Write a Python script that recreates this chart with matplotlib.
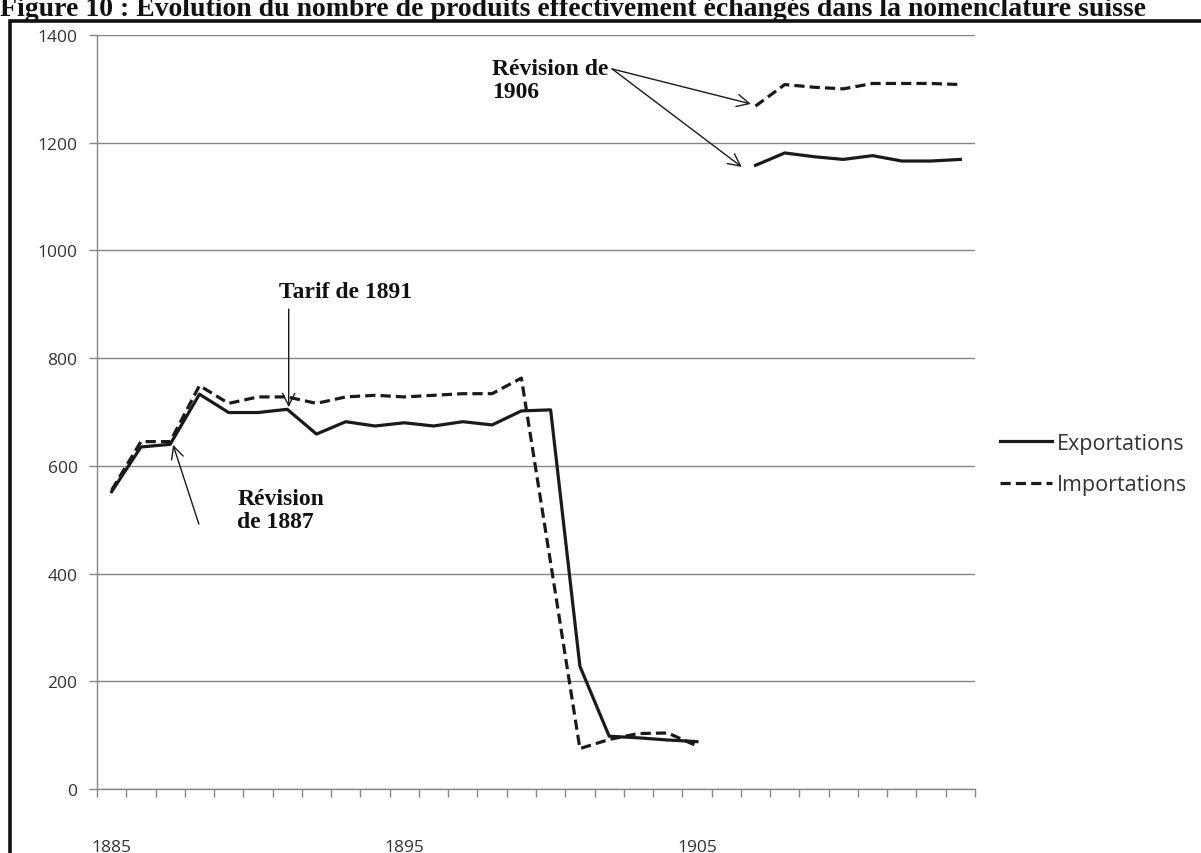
import matplotlib.pyplot as plt
import numpy as np
from matplotlib.patches import Rectangle

# values (1906: no data)
years = list(range(1885, 1915))
exportations = [552, 635, 640, 733, 699, 699, 705, 659, 682, 674, 680, 674, 682, 676, 702,
                704, 228, 98, 95, 91, 88, np.nan, 1158, 1181, 1174, 1169, 1176, 1166, 1166, 1169]
importations = [555, 645, 645, 749, 716, 728, 728, 716, 728, 731, 728, 731, 734, 734, 763,
                420, 75, 92, 103, 104, 80, np.nan, 1268, 1308, 1303, 1300, 1310, 1310, 1310, 1308]
year_labels = [1885, 1895, 1905]
y_ticks = [0, 200, 400, 600, 800, 1000, 1200, 1400]

title = "Figure 10 : Évolution du nombre de produits effectivement échangés dans la nomenclature suisse"

W, H = 1201, 854
fig = plt.figure(figsize=(W / 100, H / 100), dpi=100)
ax = fig.add_axes([97 / W, 1 - 790 / H, (975 - 97) / W, (790 - 36) / H])

grey = '#868686'
ink = '#1a1a1a'
tick_font = dict(family=['Open Sans', 'DejaVu Sans'], size=12.5, color='#333333')
serif_bold = dict(family=['Liberation Serif', 'DejaVu Serif'], weight='bold', size=17, color='#111111')

ax.plot(years, exportations, color=ink, lw=2.3, label='Exportations')
ax.plot(years, importations, color=ink, lw=2.3, linestyle=(0, (3.2, 1.6)), label='Importations')

ax.set_xlim(1884.5, 1914.5)
ax.set_ylim(0, 1400)
ax.set_yticks(y_ticks)
ax.set_yticklabels([str(v) for v in y_ticks], **tick_font)
ax.set_xticks(year_labels)
ax.set_xticklabels([str(v) for v in year_labels], **tick_font)
ax.set_xticks(np.arange(1884.5, 1915, 1), minor=True)
ax.tick_params(axis='x', which='major', length=0, pad=36)
ax.tick_params(axis='x', which='minor', length=6, color=grey, width=1, direction='out')
ax.tick_params(axis='y', length=6, color=grey, width=1, direction='out', pad=8)
ax.grid(axis='y', color=grey, lw=1)
ax.set_axisbelow(True)
for side in ['top', 'right']:
    ax.spines[side].set_visible(False)
for side in ['left', 'bottom']:
    ax.spines[side].set_color(grey)
    ax.spines[side].set_linewidth(1)

arrow = dict(arrowstyle='->', color=ink, lw=1, mutation_scale=22, shrinkA=0, shrinkB=0)

# annotations
ax.annotate('', xy=(1891.05, 709), xytext=(1891.05, 891), arrowprops=arrow)
ax.text(1893.0, 923, 'Tarif de 1891', ha='center', va='center', **serif_bold)

ax.annotate('', xy=(1887.1, 639), xytext=(1887.98, 492), arrowprops=arrow)
ax.text(1889.3, 518, 'Révision\nde 1887', ha='left', va='center', linespacing=1.15, **serif_bold)

ax.annotate('', xy=(1906.84, 1272), xytext=(1902.1, 1337), arrowprops=arrow)
ax.annotate('', xy=(1906.53, 1155), xytext=(1902.1, 1337), arrowprops=arrow)
ax.text(1898.0, 1316, 'Révision de\n1906', ha='left', va='center', linespacing=1.15, **serif_bold)

leg = fig.legend(loc='center left', bbox_to_anchor=(1000 / W, 1 - 465 / H), frameon=False,
                 borderaxespad=0, borderpad=0, handlelength=2.4, handletextpad=0.25,
                 labelspacing=0.95, prop=dict(family=['Open Sans', 'DejaVu Sans'], size=15.5))
for t in leg.get_texts():
    t.set_color('#333333')

# title cut at the top and the outer frame
fig.text(0, 1 - 16 / H, title, ha='left', va='baseline', **dict(serif_bold, size=20))
fig.patches.append(Rectangle((10 / W, -0.1), 1.2, 1.1 - 22 / H, fill=False, edgecolor='#111111',
                             lw=2.6, transform=fig.transFigure, clip_on=False))

fig.savefig('out.png', dpi=100)
